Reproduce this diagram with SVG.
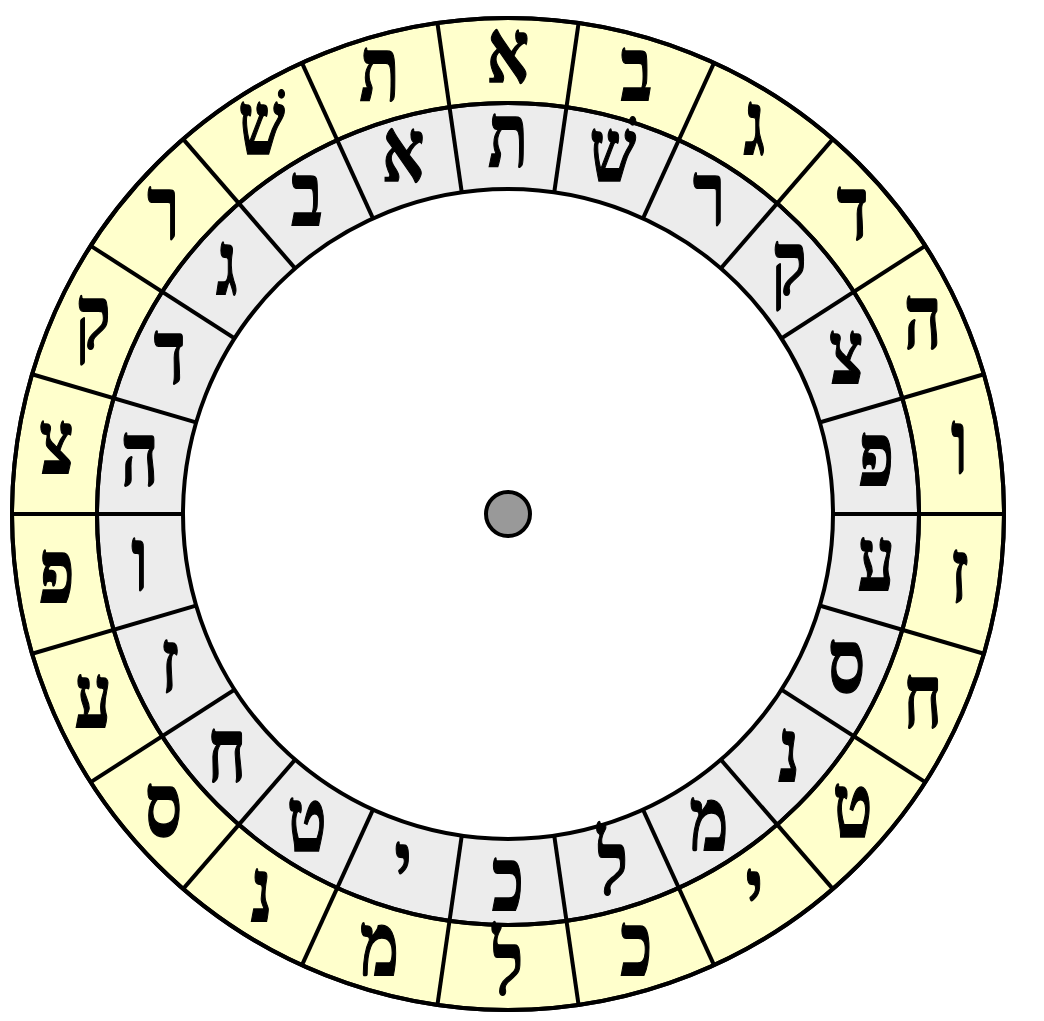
<svg xmlns="http://www.w3.org/2000/svg" width="1044" height="1021" viewBox="0 0 1044 1021">
<style>
.ring{stroke:#000;stroke-width:4}
.div{stroke:#000;stroke-width:4}
.l{font-family:"Liberation Serif","DejaVu Serif",serif;font-weight:bold;font-size:66px;text-anchor:middle;fill:#000;stroke:#000;stroke-width:1}
</style>
<rect width="1044" height="1021" fill="#fff"/>
<g id="outer-ring"><circle cx="508" cy="514" r="496" fill="#ffffcc" class="ring"/></g>
<g id="inner-ring"><circle cx="508" cy="514" r="411" fill="#ececec" class="ring"/></g>
<g id="connectors">
<line class="div" x1="508" y1="18" x2="508" y2="1010" transform="rotate(8.1818 508 514)"/>
<line class="div" x1="508" y1="18" x2="508" y2="1010" transform="rotate(24.5455 508 514)"/>
<line class="div" x1="508" y1="18" x2="508" y2="1010" transform="rotate(40.9091 508 514)"/>
<line class="div" x1="508" y1="18" x2="508" y2="1010" transform="rotate(57.2727 508 514)"/>
<line class="div" x1="508" y1="18" x2="508" y2="1010" transform="rotate(73.6364 508 514)"/>
<line class="div" x1="508" y1="18" x2="508" y2="1010" transform="rotate(90 508 514)"/>
<line class="div" x1="508" y1="18" x2="508" y2="1010" transform="rotate(106.3636 508 514)"/>
<line class="div" x1="508" y1="18" x2="508" y2="1010" transform="rotate(122.7273 508 514)"/>
<line class="div" x1="508" y1="18" x2="508" y2="1010" transform="rotate(139.0909 508 514)"/>
<line class="div" x1="508" y1="18" x2="508" y2="1010" transform="rotate(155.4545 508 514)"/>
<line class="div" x1="508" y1="18" x2="508" y2="1010" transform="rotate(171.8182 508 514)"/>
</g>
<g id="ring-borders" fill="none">
<circle cx="508" cy="514" r="496" class="ring"/>
<circle cx="508" cy="514" r="411" class="ring"/>
</g>
<g id="center-disc"><circle cx="508" cy="514" r="325" fill="#fff" class="ring"/></g>
<g id="hub"><circle cx="508" cy="514" r="22" fill="#999" stroke="#000" stroke-width="4"/></g>
<g id="outer-letters">
<text class="l" transform="translate(508 81.5) scale(1 1.35)">א</text>
<text class="l" transform="translate(636.5 100) scale(1 1.35)">ב</text>
<text class="l" transform="translate(754.5 153.9) scale(1 1.35)">ג</text>
<text class="l" transform="translate(852.6 238.9) scale(1 1.35)">ד</text>
<text class="l" transform="translate(922.8 348.1) scale(1 1.35)">ה</text>
<text class="l" transform="translate(959.4 472.6) scale(1 1.35)">ו</text>
<text class="l" transform="translate(959.4 602.4) scale(1 1.35)">ז</text>
<text class="l" transform="translate(922.8 726.9) scale(1 1.35)">ח</text>
<text class="l" transform="translate(852.6 836.1) scale(1 1.35)">ט</text>
<text class="l" transform="translate(754.5 921.1) scale(1 1.35)">י</text>
<text class="l" transform="translate(636.5 975) scale(1 1.35)">כ</text>
<text class="l" transform="translate(508 993.5) scale(1 1.35)">ל</text>
<text class="l" transform="translate(379.5 975) scale(1 1.35)">מ</text>
<text class="l" transform="translate(261.5 921.1) scale(1 1.35)">נ</text>
<text class="l" transform="translate(163.4 836.1) scale(1 1.35)">ס</text>
<text class="l" transform="translate(93.2 726.9) scale(1 1.35)">ע</text>
<text class="l" transform="translate(56.6 602.4) scale(1 1.35)">פ</text>
<text class="l" transform="translate(56.6 472.6) scale(1 1.35)">צ</text>
<text class="l" transform="translate(93.2 348.1) scale(1 1.35)">ק</text>
<text class="l" transform="translate(163.4 238.9) scale(1 1.35)">ר</text>
<text class="l" transform="translate(261.5 153.9) scale(1 1.35)">שׁ</text>
<text class="l" transform="translate(379.5 100) scale(1 1.35)">ת</text>
</g>
<g id="inner-letters">
<text class="l" transform="translate(508 165.5) scale(1 1.35)">ת</text>
<text class="l" transform="translate(612.8 180.6) scale(1 1.35)">שׁ</text>
<text class="l" transform="translate(709.1 224.6) scale(1 1.35)">ר</text>
<text class="l" transform="translate(789.1 293.9) scale(1 1.35)">ק</text>
<text class="l" transform="translate(846.4 383) scale(1 1.35)">צ</text>
<text class="l" transform="translate(876.2 484.6) scale(1 1.35)">פ</text>
<text class="l" transform="translate(876.2 590.4) scale(1 1.35)">ע</text>
<text class="l" transform="translate(846.4 692) scale(1 1.35)">ס</text>
<text class="l" transform="translate(789.1 781.1) scale(1 1.35)">נ</text>
<text class="l" transform="translate(709.1 850.4) scale(1 1.35)">מ</text>
<text class="l" transform="translate(612.8 894.4) scale(1 1.35)">ל</text>
<text class="l" transform="translate(508 909.5) scale(1 1.35)">כ</text>
<text class="l" transform="translate(403.2 894.4) scale(1 1.35)">י</text>
<text class="l" transform="translate(306.9 850.4) scale(1 1.35)">ט</text>
<text class="l" transform="translate(226.9 781.1) scale(1 1.35)">ח</text>
<text class="l" transform="translate(169.6 692) scale(1 1.35)">ז</text>
<text class="l" transform="translate(139.8 590.4) scale(1 1.35)">ו</text>
<text class="l" transform="translate(139.8 484.6) scale(1 1.35)">ה</text>
<text class="l" transform="translate(169.6 383) scale(1 1.35)">ד</text>
<text class="l" transform="translate(226.9 293.9) scale(1 1.35)">ג</text>
<text class="l" transform="translate(306.9 224.6) scale(1 1.35)">ב</text>
<text class="l" transform="translate(403.2 180.6) scale(1 1.35)">א</text>
</g>
</svg>
